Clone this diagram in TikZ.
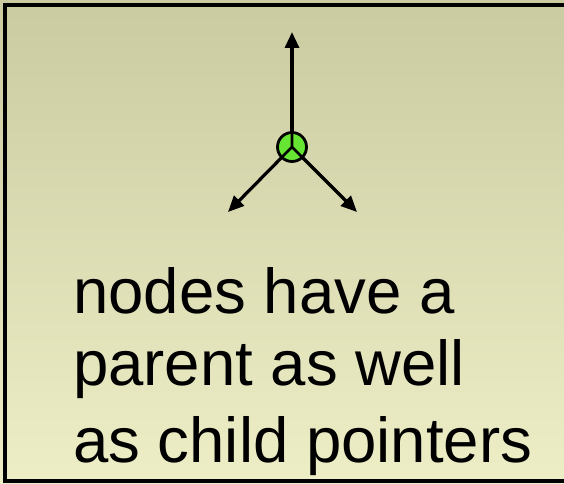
\documentclass[tikz,border=0pt]{standalone}
\usepackage{fontspec}
\setmainfont{Liberation Sans}
\usetikzlibrary{arrows.meta}
\definecolor{bgtop}{RGB}{203,203,162}
\definecolor{bgbot}{RGB}{238,238,198}
\definecolor{nodegreen}{RGB}{102,230,51}
\tikzset{
  ptr/.style={line width=3.2pt,-{Triangle[length=16pt,width=14pt]}},
  txt/.style={anchor=base west,inner sep=0pt,font=\fontsize{63.5}{63.5}\selectfont}
}
\begin{document}
\begin{tikzpicture}[x=1pt,y=1pt]
\useasboundingbox (0,0) rectangle (564,483);
\begin{scope}
\clip (0,0) rectangle (564,483);
\shade[top color=bgtop,bottom color=bgbot] (0,0) rectangle (564,483);
\draw[line width=4pt] (5,2) rectangle (580,478);
\end{scope}
\coordinate (c) at (292,336);
\coordinate (up) at (292,451);
\coordinate (dl) at (228,271);
\coordinate (dr) at (357,271);
\draw[ptr] (c) -- (up);
\draw[ptr] (c) -- (dl);
\draw[ptr] (c) -- (dr);
\node[circle,draw,line width=2.8pt,fill=nodegreen,minimum size=29pt,inner sep=0pt] (n) at (c) {};
\draw[line width=2.6pt] (c) -- (n.north) (c) -- (n.-135) (c) -- (n.-45);
\node[txt] (l1) at (73,170) {nodes have a};
\node[txt] (l2) at (73,98) {parent as well};
\node[txt] (l3) at (73,21) {as child pointers};
\end{tikzpicture}
\end{document}
